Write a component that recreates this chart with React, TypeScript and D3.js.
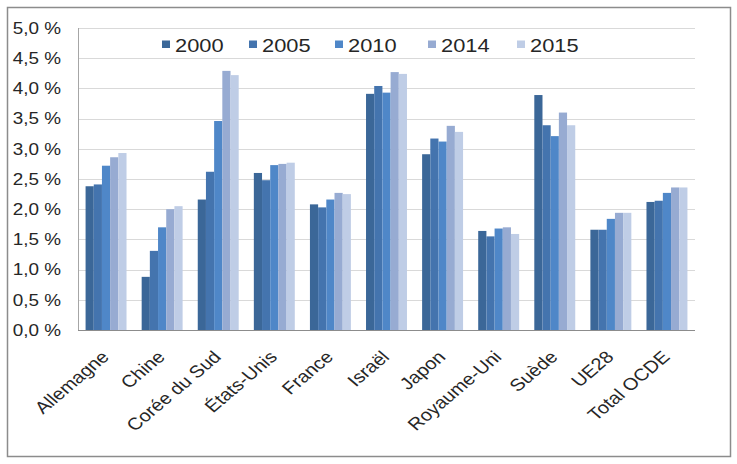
import React from "react";
import * as d3 from "d3";

const categories = ["Allemagne", "Chine", "Corée du Sud", "États-Unis", "France", "Israël", "Japon", "Royaume-Uni", "Suède", "UE28", "Total OCDE"];
const seriesNames = ["2000", "2005", "2010", "2014", "2015"];
const s2000 = [2.38, 0.88, 2.16, 2.60, 2.08, 3.91, 2.91, 1.64, 3.89, 1.66, 2.12];
const s2005 = [2.41, 1.31, 2.62, 2.48, 2.03, 4.04, 3.17, 1.55, 3.39, 1.66, 2.14];
const s2010 = [2.72, 1.70, 3.46, 2.73, 2.16, 3.93, 3.12, 1.68, 3.21, 1.84, 2.27];
const s2014 = [2.86, 2.00, 4.29, 2.75, 2.27, 4.27, 3.38, 1.70, 3.60, 1.94, 2.36];
const s2015 = [2.93, 2.05, 4.22, 2.77, 2.25, 4.24, 3.28, 1.59, 3.39, 1.94, 2.36];
const seriesValues = [s2000, s2005, s2010, s2014, s2015];
const yTicks = [0, 0.5, 1, 1.5, 2, 2.5, 3, 3.5, 4, 4.5, 5];

const colors = ["#3b6798", "#4474ae", "#4f87c8", "#97abd2", "#bfcde6"];

export default function App() {
  const W = 737, H = 464;
  const left = 78, right = 695, top = 28, bottom = 330;
  const SX = 1.18;
  const x = d3.scaleBand<string>().domain(categories).range([left, right]).paddingInner(0.27).paddingOuter(0.135);
  const xi = d3.scaleBand<string>().domain(seriesNames).range([0, x.bandwidth()]);
  const y = d3.scaleLinear().domain([0, 5]).range([bottom, top]);
  const fmt = (v: number) => v.toFixed(1).replace(".", ",") + " %";
  const font = "'Liberation Sans', Arial, sans-serif";
  const legendX = [162, 249, 335, 428, 517];

  return (
    <svg width={W} height={H} style={{ position: "absolute", left: 0, top: 0, background: "#fff" }} fontFamily={font}>
      <rect x={7.5} y={7.5} width={723} height={449} fill="#fff" stroke="#8c8c8c" strokeWidth={1.5} />
      {yTicks.map((t) => (
        <g key={t}>
          {t > 0 && <line x1={left} x2={right} y1={Math.round(y(t)) + 0.5} y2={Math.round(y(t)) + 0.5} stroke="#d9d9d9" strokeWidth={1} />}
          <text transform={`translate(61,${y(t)}) scale(${SX},1)`} dy="0.36em" textAnchor="end" fontSize={16} fill="#262626">{fmt(t)}</text>
        </g>
      ))}
      {seriesValues.map((vals, si) => (
        <g key={si}>
          {categories.map((c, ci) => (
            <rect key={c}
              x={(x(c) as number) + (xi(seriesNames[si]) as number)}
              y={y(vals[ci])}
              width={xi.bandwidth()}
              height={bottom - y(vals[ci])}
              fill={colors[si]} />
          ))}
        </g>
      ))}
      <line x1={left + 0.5} x2={left + 0.5} y1={top} y2={bottom} stroke="#a6a6a6" />
      <line x1={left} x2={right} y1={bottom + 0.5} y2={bottom + 0.5} stroke="#8c8c8c" />
      {categories.map((c) => {
        const ax = (x(c) as number) + x.bandwidth() / 2 + 4;
        const ay = 358;
        return (
          <text key={c} textAnchor="end" fontSize={17} fill="#262626"
            transform={`translate(${ax},${ay}) scale(${SX},1) rotate(-45)`}>{c}</text>
        );
      })}
      {seriesNames.map((s, i) => (
        <g key={s}>
          <rect x={legendX[i]} y={40.5} width={8} height={7.5} fill={colors[i]} />
          <text transform={`translate(${legendX[i] + 13},45) scale(${SX},1)`} dy="0.36em" fontSize={18.5} fill="#262626">{s}</text>
        </g>
      ))}
    </svg>
  );
}
